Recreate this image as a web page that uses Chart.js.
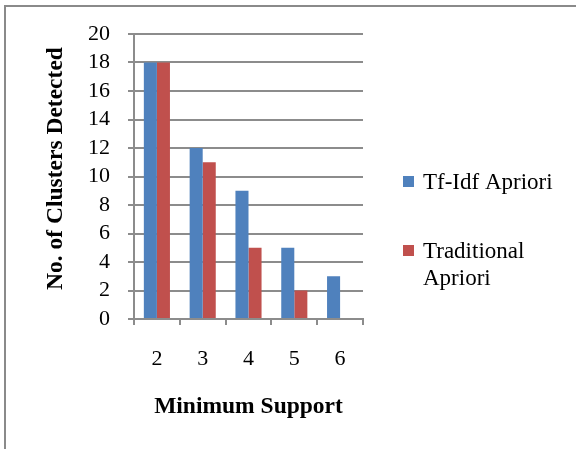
<!DOCTYPE html>
<html><head><meta charset="utf-8">
<script src="https://cdn.jsdelivr.net/npm/chart.js@4.4.1/dist/chart.umd.min.js"></script>
<style>
html,body{margin:0;padding:0;background:#fff;}
#wrap{position:relative;width:576px;height:449px;overflow:hidden;background:#fff;}
#frame{position:absolute;left:4px;top:5px;width:700px;height:700px;border-left:2px solid #8a8a8a;border-top:2px solid #8a8a8a;pointer-events:none;}
canvas{position:absolute;left:0;top:0;}
</style></head><body>
<div id="wrap"><canvas id="c" width="576" height="449"></canvas><div id="frame"></div></div>
<script>
const categories = ['2', '3', '4', '5', '6'];
const tfidfApriori = [18, 12, 9, 5, 3];
const traditionalApriori = [18, 11, 5, 2, 0];
const seriesNames = ['Tf-Idf Apriori', 'Traditional Apriori'];
const legendLines = [['Tf-Idf Apriori'], ['Traditional', 'Apriori']];
const xTitle = 'Minimum Support';
const yTitle = 'No. of Clusters Detected';
const yMin = 0, yMax = 20, yStep = 2;

const FAMILY = '"Liberation Serif", "Times New Roman", serif';
const GRID = '#8c8c8c';
const BLUE = '#4f81bd';
const RED = '#c0504d';

const overlay = {
  id: 'overlay',
  afterDraw(chart) {
    const ctx = chart.ctx;
    ctx.save();
    ctx.fillStyle = '#000';
    ctx.font = 'bold 23.5px ' + FAMILY;
    ctx.textAlign = 'center';
    ctx.textBaseline = 'alphabetic';
    const a = chart.chartArea;
    ctx.fillText(xTitle, (a.left + a.right) / 2, 413);
    ctx.save();
    ctx.translate(62, 168.5);
    ctx.rotate(-Math.PI / 2);
    ctx.fillText(yTitle, 0, 0);
    ctx.restore();
    const ys = [189, 258];
    ctx.font = '23px ' + FAMILY;
    ctx.textAlign = 'left';
    chart.data.datasets.forEach((ds, i) => {
      ctx.fillStyle = ds.backgroundColor;
      ctx.fillRect(403, ys[i] - 13, 11, 11);
      ctx.fillStyle = '#000';
      legendLines[i].forEach((ln, j) => ctx.fillText(ln, 423, ys[i] + j * 27));
    });
    ctx.restore();
  }
};

new Chart(document.getElementById('c'), {
  type: 'bar',
  data: {
    labels: categories,
    datasets: [
      { label: seriesNames[0], data: tfidfApriori, backgroundColor: BLUE, borderWidth: 0, categoryPercentage: 0.57, barPercentage: 1.0 },
      { label: seriesNames[1], data: traditionalApriori, backgroundColor: RED, borderWidth: 0, categoryPercentage: 0.57, barPercentage: 1.0 }
    ]
  },
  options: {
    responsive: false,
    animation: false,
    layout: { padding: { left: 0, top: 34, right: 213, bottom: 0 } },
    plugins: { legend: { display: false }, tooltip: { enabled: false } },
    scales: {
      x: {
        grid: { display: true, drawOnChartArea: false, drawTicks: true, tickLength: 6, color: GRID, lineWidth: 2, offset: true },
        border: { display: true, color: GRID, width: 2 },
        ticks: { font: { family: FAMILY, size: 22, lineHeight: 1 }, color: '#000', padding: 23, maxRotation: 0, autoSkip: false },
        afterFit(s) { s.height = 130; }
      },
      y: {
        min: yMin, max: yMax,
        ticks: { stepSize: yStep, font: { family: FAMILY, size: 22, lineHeight: 1 }, color: '#000', padding: 18, autoSkip: false },
        grid: { color: GRID, lineWidth: 2, tickLength: 6 },
        border: { display: true, color: GRID, width: 2 },
        afterFit(s) { s.width = 134; }
      }
    }
  },
  plugins: [overlay]
});
</script>
</body></html>
